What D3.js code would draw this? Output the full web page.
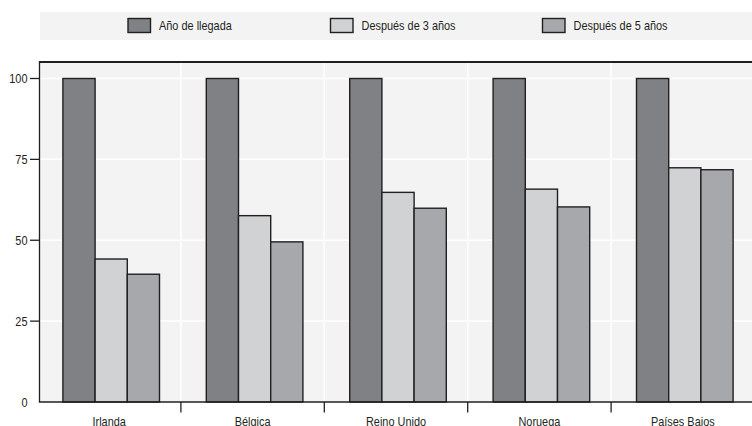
<!DOCTYPE html>
<html>
<head>
<meta charset="utf-8">
<script src="https://cdn.jsdelivr.net/npm/d3@7"></script>
<style>
  body { margin: 0; background: #fff; }
  svg { display: block; font-family: "Liberation Sans", Arial, sans-serif; }
</style>
</head>
<body>
<div id="chart"></div>
<script>
const categories = ["Irlanda", "Bélgica", "Reino Unido", "Noruega", "Países Bajos"];
const seriesNames = ["Año de llegada", "Después de 3 años", "Después de 5 años"];
const arrival = [100, 100, 100, 100, 100];
const after3 = [44.2, 57.6, 64.8, 65.8, 72.4];
const after5 = [39.5, 49.5, 59.9, 60.3, 71.8];
const yTicks = [0, 25, 50, 75, 100];
const colors = ["#808184", "#d1d2d4", "#a7a8ab"];

const W = 752, H = 426;
const ink = "#231f20";
const squeeze = 0.84;   // condensed look for the labels

const svg = d3.select("#chart").append("svg")
    .attr("width", W)
    .attr("height", H);

// small helper: condensed text anchored at (x, y)
function label(sel, x, y, anchor) {
    return sel.append("text")
        .attr("transform", `translate(${x},${y}) scale(${squeeze},1)`)
        .attr("text-anchor", anchor || "start")
        .attr("font-size", 13)
        .attr("fill", ink);
}

// legend strip
svg.append("rect")
    .attr("x", 40).attr("y", 12)
    .attr("width", W - 40).attr("height", 28)
    .attr("fill", "#f3f3f3");

const legendX = [128, 330.5, 542.5];
seriesNames.forEach((name, i) => {
    const lg = svg.append("g").attr("transform", `translate(${legendX[i]},18.5)`);
    lg.append("rect")
        .attr("width", 22.5).attr("height", 14)
        .attr("fill", colors[i])
        .attr("stroke", ink).attr("stroke-width", 1.4);
    label(lg, 31, 11).text(name);
});

const plot = { left: 39.5, top: 62, bottom: 402, right: W };
const x0 = d3.scaleBand().domain(categories).range([37.5, 37.5 + 143.4 * 5]);
const x1 = d3.scaleBand().domain(seriesNames).range([0, 96.6]);
const y = d3.scaleLinear().domain([0, 105.1]).range([plot.bottom, plot.top]);

svg.append("rect")
    .attr("x", plot.left).attr("y", plot.top)
    .attr("width", plot.right - plot.left).attr("height", plot.bottom - plot.top)
    .attr("fill", "#f3f3f3");

// grid
svg.append("g").selectAll("line")
    .data(yTicks.slice(1))
    .join("line")
    .attr("x1", plot.left).attr("x2", plot.right)
    .attr("y1", d => y(d)).attr("y2", d => y(d))
    .attr("stroke", "#fff").attr("stroke-width", 1.5);
svg.append("g").selectAll("line")
    .data(categories.slice(1))
    .join("line")
    .attr("x1", d => x0(d)).attr("x2", d => x0(d))
    .attr("y1", plot.top).attr("y2", plot.bottom)
    .attr("stroke", "#fff").attr("stroke-width", 1.5);

const rows = categories.map((c, i) => ({ cat: c, vals: [arrival[i], after3[i], after5[i]] }));

const groups = svg.append("g").selectAll("g")
    .data(rows)
    .join("g")
    .attr("transform", d => `translate(${x0(d.cat) + x0.bandwidth() / 2 + 2 - 48.3},0)`);
groups.selectAll("rect")
    .data(d => d.vals.map((v, i) => ({ name: seriesNames[i], v, i })))
    .join("rect")
    .attr("x", d => x1(d.name))
    .attr("width", x1.bandwidth())
    .attr("y", d => y(d.v))
    .attr("height", d => plot.bottom - y(d.v))
    .attr("fill", d => colors[d.i])
    .attr("stroke", ink).attr("stroke-width", 1.4);

// frame
svg.append("line").attr("x1", plot.left - 0.6).attr("x2", plot.right)
    .attr("y1", plot.top).attr("y2", plot.top)
    .attr("stroke", ink).attr("stroke-width", 1.8);
svg.append("line").attr("x1", plot.left).attr("x2", plot.left)
    .attr("y1", plot.top).attr("y2", plot.bottom)
    .attr("stroke", ink).attr("stroke-width", 1.3);

// y axis
const yAxis = svg.append("g");
yAxis.selectAll("line")
    .data(yTicks.slice(1))
    .join("line")
    .attr("x1", 30).attr("x2", plot.left)
    .attr("y1", d => y(d)).attr("y2", d => y(d))
    .attr("stroke", ink).attr("stroke-width", 1.3);
yTicks.forEach(t => {
    label(yAxis, 27.5, y(t) + 4.5, "end").text(t);
});

// x axis
const xAxis = svg.append("g");
xAxis.append("line").attr("x1", plot.left - 0.6).attr("x2", plot.right)
    .attr("y1", plot.bottom).attr("y2", plot.bottom)
    .attr("stroke", ink).attr("stroke-width", 1.3);
xAxis.selectAll("line.tick")
    .data(categories.slice(1))
    .join("line")
    .attr("class", "tick")
    .attr("x1", d => x0(d)).attr("x2", d => x0(d))
    .attr("y1", plot.bottom).attr("y2", plot.bottom + 10.5)
    .attr("stroke", ink).attr("stroke-width", 1.3);
categories.forEach(c => {
    label(xAxis, x0(c) + x0.bandwidth() / 2, plot.bottom + 24, "middle").text(c);
});
</script>
</body>
</html>
